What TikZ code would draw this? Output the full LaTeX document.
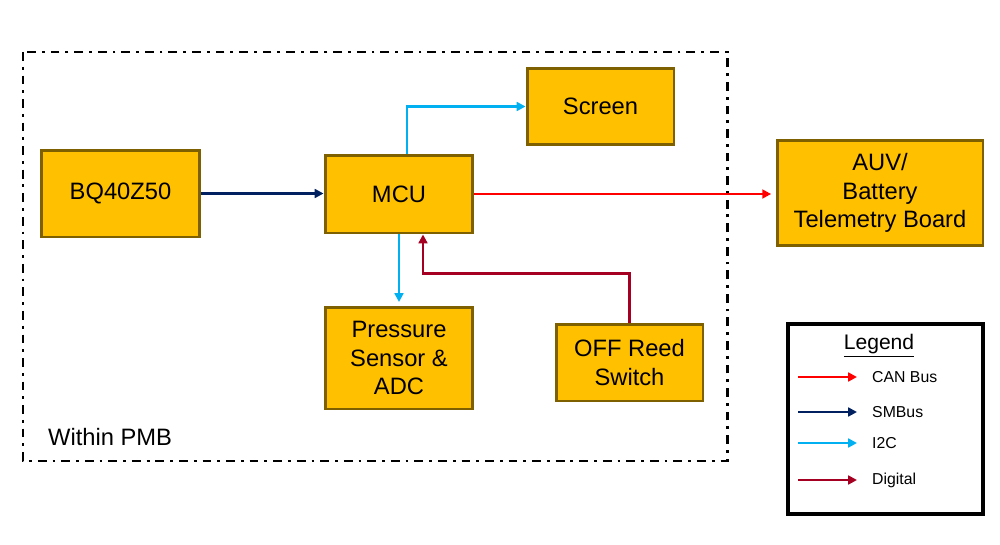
\documentclass[tikz,border=0pt]{standalone}
\usepackage{fontspec}
\setmainfont{Liberation Sans}
\usetikzlibrary{arrows.meta}
\definecolor{boxfill}{HTML}{FFC000}
\definecolor{boxedge}{HTML}{7F6000}
\definecolor{canred}{HTML}{FF0000}
\definecolor{smnavy}{HTML}{002060}
\definecolor{icblue}{HTML}{00B0F0}
\definecolor{digred}{HTML}{A50021}
\begin{document}
\begin{tikzpicture}[x=0.02cm,y=-0.02cm,
    block/.style={rectangle, draw=boxedge, fill=boxfill, line width=1.7pt, align=center,
        font=\fontsize{13.5}{16.4}\selectfont, inner sep=0pt},
    bus/.style={line width=1.6pt, -{Triangle[length=5pt,width=5pt]}}]

    \useasboundingbox (0,0) rectangle (1000,544);

    % PMB outline
    \draw[line width=1.7pt, dash pattern=on 5pt off 3.4pt on 1.6pt off 3.4pt] (23,52) rectangle (727,461);
    \node[anchor=west, font=\fontsize{13.5}{16}\selectfont] (pmb) at (42,437) {Within PMB};

    % Blocks
    \node[block, minimum width=3.18cm, minimum height=1.74cm] (bq) at (120.5,193.5) {BQ40Z50};
    \node[block, minimum width=2.96cm, minimum height=1.56cm] (mcu) at (399,194) {MCU};
    \node[block, minimum width=2.94cm, minimum height=1.54cm] (screen) at (600.5,106.5) {Screen};
    \node[block, minimum width=2.96cm, minimum height=2.04cm] (pressure) at (399,358) {Pressure\\Sensor \&\\ADC};
    \node[block, minimum width=2.94cm, minimum height=1.54cm] (reed) at (629.5,362.5) {OFF Reed\\Switch};
    \node[block, minimum width=4.12cm, minimum height=2.12cm] (auv) at (880,193) {AUV/\\Battery\\Telemetry Board};

    % Connections
    \draw[bus, smnavy] (bq.east) -- (bq.east -| mcu.west);
    \draw[bus, icblue] ([xshift=0.16cm]mcu.north) |- (screen.west);
    \draw[bus, icblue] (mcu.south) -- ([yshift=2pt]pressure.north);
    \draw[bus, canred, shorten >=2.5pt] (mcu.east) -- (mcu.east -| auv.west);
    \draw[bus, digred] (reed.north) -- ++(0,-49) -| ([xshift=0.48cm]mcu.south);

    % Legend
    \node[rectangle, draw, line width=1.8pt, minimum width=3.9cm, minimum height=3.8cm] (legend) at (885.5,419) {};
    \node[font=\fontsize{12}{14}\selectfont, inner sep=1pt] (legtitle) at (879,346) {\underline{Legend}};
    \foreach \ypos/\col/\txt [count=\i] in {377/canred/CAN Bus, 412/smnavy/SMBus, 443/icblue/I2C, 480/digred/Digital} {
        \coordinate (ls\i) at (798,\ypos);
        \coordinate (le\i) at (857,\ypos);
        \node[anchor=west, font=\fontsize{9}{11}\selectfont] (lt\i) at (866,\ypos) {\txt};
        \draw[bus, \col] (ls\i) -- (le\i);
    }
\end{tikzpicture}
\end{document}
